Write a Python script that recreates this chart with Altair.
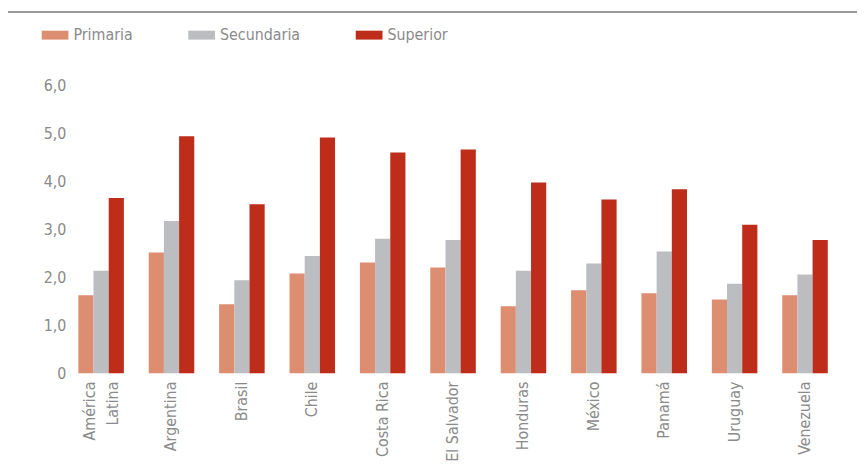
import altair as alt
import pandas as pd

countries = ["América Latina", "Argentina", "Brasil", "Chile", "Costa Rica",
             "El Salvador", "Honduras", "México", "Panamá", "Uruguay", "Venezuela"]
levels = ["Primaria", "Secundaria", "Superior"]
primaria = [1.63, 2.52, 1.44, 2.08, 2.31, 2.21, 1.40, 1.73, 1.67, 1.54, 1.63]
secundaria = [2.14, 3.18, 1.94, 2.45, 2.81, 2.78, 2.14, 2.29, 2.54, 1.87, 2.06]
superior = [3.66, 4.95, 3.53, 4.92, 4.61, 4.67, 3.98, 3.63, 3.84, 3.10, 2.78]
colors = ["#DE8E70", "#BCBDC1", "#BE2D1A"]
y_ticks = [0, 1, 2, 3, 4, 5, 6]

rows = []
for i, c in enumerate(countries):
    for lvl, vals in zip(levels, [primaria, secundaria, superior]):
        rows.append({"pais": c, "nivel": lvl, "valor": vals[i]})
df = pd.DataFrame(rows)

FONT = "DejaVu Sans Condensed"
GRAY = "#8a8a8a"
FS = 16

bars = alt.Chart(df).mark_bar().encode(
    x=alt.X("pais:N", sort=countries, title=None,
            scale=alt.Scale(paddingInner=0.353, paddingOuter=0.176),
            axis=alt.Axis(labelAngle=270, labelAlign="right", labelBaseline="middle",
                          labelPadding=8, ticks=False, domain=False,
                          labelFont=FONT, labelFontSize=FS, labelColor=GRAY,
                          labelLineHeight=23, labelFontWeight="normal",
                          labelOffset={"condition": {"test": "datum.value == 'América Latina'", "value": -11},
                                       "value": 0},
                          labelExpr="datum.label == 'América Latina' ? ['América', 'Latina'] : datum.label")),
    xOffset=alt.XOffset("nivel:N", sort=levels, scale=alt.Scale(paddingInner=0, paddingOuter=0)),
    y=alt.Y("valor:Q", title=None,
            scale=alt.Scale(domain=[0, 6], nice=False),
            axis=alt.Axis(values=y_ticks, grid=False, domain=False, ticks=False,
                          labelPadding=0, labelFont=FONT, labelFontSize=FS, labelColor=GRAY,
                          labelExpr="datum.value == 0 ? '0' : replace(format(datum.value, '.1f'), '.', ',')")),
    color=alt.Color("nivel:N", sort=levels, title=None,
                    scale=alt.Scale(domain=levels, range=colors),
                    legend=alt.Legend(orient="none", legendX=-24.5, legendY=-65,
                                      direction="horizontal", padding=0,
                                      symbolType="M-1,-0.333h2v0.667h-2z", symbolSize=729,
                                      symbolStrokeWidth=0, symbolOpacity=1,
                                      labelOffset=5, columnPadding=56,
                                      labelFont=FONT, labelFontSize=FS, labelColor=GRAY)),
)

top_rule = alt.Chart(pd.DataFrame({"a": [0]})).mark_rule(color="#9a9a9a", strokeWidth=2).encode(
    x=alt.value(-58.5), x2=alt.value(798.5), y=alt.value(-74.5)
)

chart = alt.layer(bars, top_rule).properties(
    width=781.5, height=290,
    autosize=alt.AutoSizeParams(type="none"),
    padding={"left": 58.5, "top": 76.5, "right": 17, "bottom": 87},
).configure_view(stroke=None)

chart.save("out.html", embed_options={"renderer": "svg", "actions": False})
